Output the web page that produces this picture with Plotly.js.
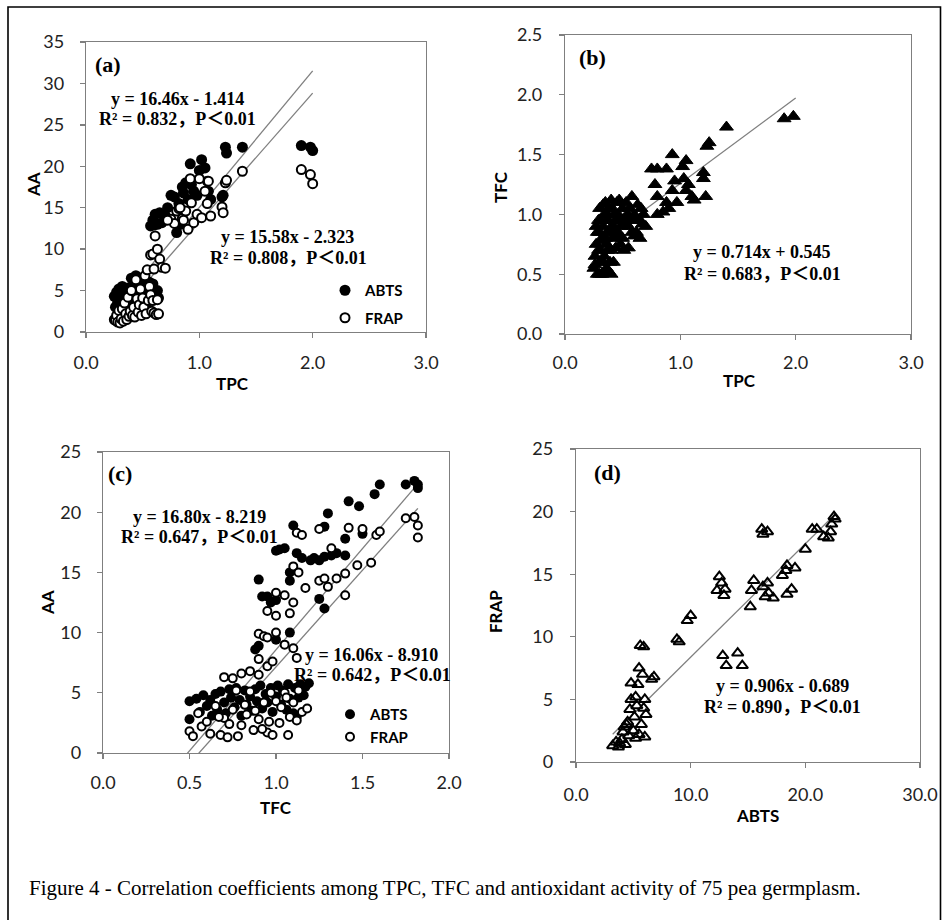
<!DOCTYPE html>
<html><head><meta charset="utf-8">
<script src="https://cdn.plot.ly/plotly-3.0.1.min.js"></script>
<style>html,body{margin:0;padding:0;background:#fff}#chart{width:942px;height:920px}</style>
</head><body><div id="chart"></div>
<script>
// ---------- Panel (a): TPC vs AA (ABTS, FRAP) ----------
var aTPC = [0.25,0.26,0.27,0.28,0.29,0.30,0.31,0.32,0.33,0.34,0.35,0.36,0.37,0.38,0.39,0.40,0.41,0.42,0.43,0.44,0.45,0.46,0.47,0.48,0.49,0.50,0.51,0.52,0.53,0.54,0.55,0.56,0.57,0.58,0.59,0.60,0.62,0.63,0.64,
  0.57,0.59,0.61,0.63,0.65,0.67,0.70,0.60,
  0.75,0.78,0.80,0.82,0.85,0.88,0.90,0.92,0.95,0.98,1.00,1.02,1.05,1.07,1.10,0.83,0.86,1.08,0.72,0.93,
  1.20,1.21,1.23,1.24,1.38,1.90,1.98,2.00];
var aABTS = [4.3,3.0,4.8,3.6,5.2,2.5,4.0,5.5,3.2,4.6,5.0,3.8,5.3,2.8,4.4,6.5,3.5,5.8,4.2,6.8,3.0,5.5,4.8,6.2,3.8,5.0,4.5,6.0,3.3,5.8,4.0,6.0,5.2,4.5,5.8,4.8,4.3,5.0,4.1,
  12.8,13.5,14.2,13.0,14.4,13.2,14.0,12.9,
  16.5,16.3,12.0,15.5,17.5,18.0,16.0,20.3,17.0,16.5,19.5,20.8,19.8,18.2,16.0,13.0,16.8,17.0,15.0,17.8,
  16.3,16.5,22.3,21.6,22.3,22.5,22.3,21.9];
var aFRAP = [1.5,1.4,2.0,1.2,2.6,1.1,1.6,2.8,1.3,3.5,2.2,1.5,4.2,1.9,2.5,5.0,2.0,3.0,1.8,6.3,4.0,2.4,3.3,5.2,2.0,4.1,3.0,6.8,2.2,7.5,3.8,5.5,4.5,2.5,3.8,2.3,2.1,3.9,2.2,
  9.3,9.4,11.6,10.0,8.8,7.8,7.7,7.6,
  13.6,13.1,14.6,14.9,13.7,14.6,12.4,18.5,13.2,14.2,18.5,13.8,17.0,15.5,14.0,15.0,13.5,18.2,13.5,15.6,
  15.1,14.4,18.0,18.3,19.4,19.6,19.0,17.9];
var aFitABTS = [16.46, -1.414], aFitFRAP = [15.58, -2.323], aFitRange = [0.25, 2.0];

// ---------- Panel (b): TPC vs TFC ----------
var bTPC = [0.25,0.26,0.27,0.28,0.28,0.29,0.30,0.30,0.31,0.32,0.32,0.33,0.34,0.34,0.35,0.36,0.36,0.37,0.38,0.38,0.39,0.40,0.40,0.41,0.42,0.43,0.44,0.45,0.46,0.47,0.48,0.50,0.50,0.52,0.53,0.55,0.55,0.58,0.60,0.60,0.62,0.63,0.65,0.67,0.70,0.66,0.58,
  0.27,0.29,0.31,0.33,0.33,0.35,0.37,0.37,0.39,0.41,0.42,0.44,0.45,0.47,0.49,0.51,0.54,0.56,0.62,0.68,0.30,0.36,0.40,0.43,0.26,0.38,0.30,0.34,0.46,0.65,0.50,0.57,
  0.75,0.80,0.78,0.80,0.80,0.85,0.88,0.88,0.90,0.93,0.93,0.95,0.97,1.02,1.03,1.05,1.05,1.07,1.10,1.12,1.20,1.20,1.22,1.23,1.25,1.40,1.90,1.98];
var bTFC = [0.55,0.65,0.75,0.50,0.85,0.95,0.60,1.05,0.70,0.80,0.50,0.90,1.00,0.65,1.10,0.75,0.55,0.85,1.05,0.95,0.60,0.50,1.12,0.80,0.90,1.00,0.72,1.10,0.85,0.95,0.75,1.05,0.80,0.95,1.10,0.72,0.90,1.15,0.82,1.00,0.95,1.08,0.80,0.92,0.90,1.05,0.85,
  0.90,0.70,0.95,0.60,1.08,0.80,1.00,0.70,0.88,1.05,0.60,0.95,0.82,1.12,0.90,0.70,1.00,1.05,0.85,1.00,0.85,0.95,0.70,0.85,0.58,0.52,0.50,0.78,1.00,0.95,0.92,0.95,
  1.38,1.38,1.25,1.15,1.00,1.02,1.38,1.10,1.05,1.50,1.20,1.28,1.10,1.40,1.30,1.45,1.20,1.25,1.15,1.12,1.35,1.30,1.15,1.57,1.60,1.73,1.80,1.82];
var bFit = [0.714, 0.545], bFitRange = [0.25, 2.0];

// ---------- Panel (c): TFC vs AA (ABTS, FRAP) ----------
var cTFC_A = [0.50,0.50,0.54,0.56,0.58,0.60,0.62,0.63,0.65,0.66,0.68,0.70,0.71,0.73,0.74,0.76,0.77,0.79,0.80,0.82,0.83,0.85,0.86,0.88,0.89,0.91,0.92,0.94,0.95,0.97,0.98,1.00,1.01,1.03,1.04,1.06,1.07,1.08,1.10,1.11,1.13,1.14,1.16,1.17,1.19,1.12,
  0.88,0.90,1.00,1.08,
  0.90,0.92,0.95,1.00,1.02,1.05,1.08,1.10,1.12,1.15,1.20,1.22,1.25,1.28,1.28,1.30,1.32,1.35,1.40,1.42,1.40,1.48,1.50,1.57,1.60,1.75,1.80,1.82,1.82,1.25,1.28,1.00,1.08,0.97];
var cABTS = [4.3,2.8,4.5,3.4,4.8,3.9,4.4,3.1,4.9,3.6,5.1,4.2,3.3,5.3,4.6,3.8,5.4,4.4,3.1,5.2,4.0,4.7,3.5,5.3,4.3,5.6,3.7,4.9,4.2,5.4,3.4,4.7,5.6,4.0,5.2,3.6,5.7,4.5,3.3,5.4,4.6,5.7,4.8,5.5,5.8,3.0,
  8.6,8.9,9.4,10.0,
  14.4,13.0,13.0,16.8,16.9,17.0,15.0,18.9,16.6,16.2,16.0,16.2,16.0,16.3,18.8,19.9,16.4,16.6,16.4,20.9,17.8,20.5,18.2,21.5,22.3,22.3,22.6,22.0,22.3,12.8,12.0,12.7,14.3,12.5];
var cTFC_F = [0.50,0.52,0.55,0.57,0.60,0.62,0.65,0.68,0.70,0.70,0.72,0.75,0.77,0.78,0.80,0.80,0.82,0.85,0.87,0.88,0.90,0.90,0.93,0.95,0.97,0.98,1.00,1.02,1.05,1.07,1.08,1.10,1.12,1.15,1.18,0.75,0.85,0.67,0.92,1.03,1.13,0.73,0.83,0.96,1.06,
  1.05,1.10,1.12,0.90,0.93,0.95,0.90,0.95,0.98,1.00,
  0.95,1.00,1.00,1.05,1.08,1.10,1.10,1.13,1.12,1.15,1.17,1.25,1.25,1.28,1.30,1.32,1.35,1.40,1.42,1.40,1.47,1.50,1.55,1.58,1.60,1.75,1.80,1.82,1.82];
var cFRAP = [1.8,1.4,3.3,2.2,2.6,1.6,3.9,1.5,6.3,2.9,1.3,3.6,5.2,1.4,6.6,2.3,4.0,5.1,1.9,3.5,6.5,2.8,4.2,1.7,5.0,1.5,4.3,2.5,5.0,1.5,3.0,4.2,2.7,3.4,3.7,6.2,6.8,3.0,2.0,3.8,5.2,2.4,3.2,2.6,4.6,
  9.0,8.7,7.9,9.9,9.7,9.6,7.8,7.2,7.6,10.0,
  11.8,11.4,13.3,13.1,11.6,12.5,15.5,15.0,18.3,18.1,13.7,18.6,14.3,14.5,13.8,17.0,14.5,13.1,18.7,14.9,15.6,18.6,15.8,18.1,18.4,19.5,19.6,18.9,17.9];
var cFitABTS = [16.80, -8.219], cFitFRAP = [16.06, -8.910], cFitRange = [0.48, 1.82];

// ---------- Panel (d): ABTS vs FRAP ----------
var dABTS = [3.2,3.5,3.7,4.0,4.2,4.3,4.5,4.6,4.7,4.8,4.8,5.0,5.1,5.2,5.3,5.4,5.5,5.5,5.6,5.7,5.8,5.9,5.9,6.0,6.0,6.1,6.6,6.8,4.1,4.4,5.2,3.8,
  8.8,9.0,9.7,10.0,
  12.3,12.5,12.7,12.9,13.0,12.8,13.1,14.1,14.5,
  15.2,15.3,15.5,16.2,16.3,16.7,16.3,16.5,16.7,16.8,17.2,18.0,18.3,18.4,18.4,18.8,19.1,20.0,20.6,21.0,21.6,22.0,22.2,22.3,22.5,22.6];
var dFRAP = [1.3,1.6,1.2,1.8,2.8,1.4,3.2,2.1,4.2,5.0,6.3,2.5,3.6,5.2,4.5,6.2,7.5,2.2,9.3,3.0,7.0,9.2,4.3,5.0,2.0,3.8,6.6,6.8,2.4,3.0,1.9,1.5,
  9.8,9.6,11.3,11.7,
  13.7,14.8,14.3,13.3,13.8,8.5,7.7,8.7,7.7,
  12.4,13.7,14.5,18.6,18.2,18.4,14.0,13.2,14.3,13.5,13.1,14.9,15.3,15.7,13.4,13.8,15.5,17.0,18.6,18.6,18.0,17.9,18.4,19.0,19.6,19.4];
var dFit = [0.906, -0.689], dFitRange = [3.2, 22.6];

// ---------- Text ----------
var capText = "Figure 4 - Correlation coefficients among TPC, TFC and antioxidant activity of 75 pea germplasm.";

var W = 942, H = 920;
function px(x){return x/W;}
function py(y){return 1 - y/H;}
function fitLine(fit, range){ return {x: range.slice(), y: range.map(function(v){return fit[0]*v + fit[1];})}; }

var GRAY = '#7f7f7f';
function mkTrend(fit, range, xa, ya){
  var l = fitLine(fit, range);
  return {x:l.x, y:l.y, xaxis:xa, yaxis:ya, mode:'lines', line:{color:GRAY, width:1.3}, showlegend:false, hoverinfo:'skip'};
}
var filledC = function(sz){return {symbol:'circle', size:sz, color:'#000', line:{width:0}};};
var openC = function(sz){return {symbol:'circle', size:sz, color:'#fff', line:{width:2, color:'#000'}};};

var traces = [
  mkTrend(aFitABTS, aFitRange, 'x', 'y'),
  mkTrend(aFitFRAP, aFitRange, 'x', 'y'),
  {x:aTPC, y:aABTS, xaxis:'x', yaxis:'y', mode:'markers', name:'ABTS', marker:filledC(11), legend:'legend', legendgroup:'a1'},
  {x:aTPC, y:aFRAP, xaxis:'x', yaxis:'y', mode:'markers', name:'FRAP', marker:openC(9), legend:'legend', legendgroup:'a2'},

  mkTrend(bFit, bFitRange, 'x2', 'y2'),
  {x:bTPC, y:bTFC, xaxis:'x2', yaxis:'y2', mode:'markers', showlegend:false,
   marker:{symbol:'triangle-up', size:12, color:'#000', line:{width:1, color:'#000'}}},

  mkTrend(cFitABTS, cFitRange, 'x3', 'y3'),
  mkTrend(cFitFRAP, cFitRange, 'x3', 'y3'),
  {x:cTFC_A, y:cABTS, xaxis:'x3', yaxis:'y3', mode:'markers', name:'ABTS', marker:filledC(10), legend:'legend2'},
  {x:cTFC_F, y:cFRAP, xaxis:'x3', yaxis:'y3', mode:'markers', name:'FRAP', marker:openC(8), legend:'legend2'},

  mkTrend(dFit, dFitRange, 'x4', 'y4'),
  {x:dABTS, y:dFRAP, xaxis:'x4', yaxis:'y4', mode:'markers', showlegend:false,
   marker:{symbol:'triangle-up-open', size:10, color:'#000', line:{width:2, color:'#000'}}}
];

function axis(dom, anchor, range, dtick, fmt, standoff){
  var a = {domain:dom, anchor:anchor, range:range, dtick:dtick, tick0:0, showline:true, mirror:true,
    linecolor:GRAY, linewidth:1.3, ticks:'outside', ticklen:5, tickwidth:1.3, tickcolor:GRAY,
    showgrid:false, zeroline:false, fixedrange:true, ticklabelstandoff:standoff,
    tickfont:{family:'Lato, Carlito, sans-serif', size:18, color:'#222'}};
  if (fmt) a.tickformat = fmt;
  return a;
}

var serifB = 'Liberation Serif, Times New Roman, Noto Sans CJK SC, serif';
var ann = [];
function T(text, x, y, opt){
  opt = opt || {};
  ann.push({text:text, x:px(x), y:py(y), xref:'paper', yref:'paper', showarrow:false,
    xanchor:opt.xanchor || 'center', yanchor:'middle', textangle:opt.angle || 0,
    font:{family:opt.family || serifB, size:opt.size || 18, color:'#000', weight: opt.weight || 'bold'}});
}
var sansB = 'Lato, Carlito, sans-serif';
// panel labels
T('(a)', 93, 65, {xanchor:'left', size:22});
T('(b)', 577, 57, {xanchor:'left', size:22});
T('(c)', 106, 473, {xanchor:'left', size:22});
T('(d)', 592, 472, {xanchor:'left', size:22});
// equations
T('y = 16.46x - 1.414', 177, 99);
T('R² = 0.832，P＜0.01', 177, 119);
T('y = 15.58x - 2.323', 287, 237);
T('R² = 0.808，P＜0.01', 288, 258);
T('y = 0.714x + 0.545', 762, 252);
T('R² = 0.683，P＜0.01', 762, 274);
T('y = 16.80x - 8.219', 199, 517);
T('R² = 0.647，P＜0.01', 199, 537);
T('y = 16.06x - 8.910', 371, 655);
T('R² = 0.642，P＜0.01', 372, 675);
T('y = 0.906x - 0.689', 782, 686);
T('R² = 0.890，P＜0.01', 782, 707);
// axis titles
T('AA', 33, 185, {angle:-90, family:sansB, size:17});
T('TPC', 232, 383, {family:sansB, size:17});
T('TFC', 500, 187, {angle:-90, family:sansB, size:17});
T('TPC', 739, 380, {family:sansB, size:17});
T('AA', 47, 603, {angle:-90, family:sansB, size:17});
T('TFC', 276, 807, {family:sansB, size:17});
T('FRAP', 495, 612, {angle:-90, family:sansB, size:17});
T('ABTS', 757, 815, {family:sansB, size:17});
// caption
T(capText, 27, 888, {xanchor:'left', size:21, weight:'normal'});

var layout = {
  width:W, height:H, margin:{l:0,r:0,t:0,b:0}, paper_bgcolor:'#fff', plot_bgcolor:'#fff',
  xaxis: axis([px(86), px(426)], 'y', [0,3], 1, '.1f', 9),
  yaxis: axis([py(332), py(42)], 'x', [0,35], 5, null, 12),
  xaxis2: axis([px(565), px(911)], 'y2', [0,3], 1, '.1f', 7),
  yaxis2: axis([py(334), py(35)], 'x2', [0,2.5], 0.5, '.1f', 13),
  xaxis3: axis([px(103), px(449)], 'y3', [0,2], 0.5, '.1f', 8),
  yaxis3: axis([py(753), py(452)], 'x3', [0,25], 5, null, 12),
  xaxis4: axis([px(576), px(920)], 'y4', [0,30], 10, '.1f', 11),
  yaxis4: axis([py(762), py(449)], 'x4', [0,25], 5, null, 13),
  legend: {x:px(325), y:py(274), xanchor:'left', yanchor:'top', bgcolor:'rgba(0,0,0,0)', borderwidth:0,
    tracegroupgap:5, traceorder:'grouped', font:{family:sansB, size:15, color:'#000', weight:'bold'}},
  legend2: {x:px(330), y:py(698), xanchor:'left', yanchor:'top', bgcolor:'rgba(0,0,0,0)', borderwidth:0,
    font:{family:sansB, size:15, color:'#000', weight:'bold'}},
  showlegend:true,
  annotations: ann,
  shapes: [{type:'rect', xref:'paper', yref:'paper', x0:px(8), x1:px(940.5), y0:-0.05, y1:py(7),
    line:{color:'#000', width:1.6}, fillcolor:'rgba(0,0,0,0)'}]
};

Plotly.newPlot('chart', traces, layout, {displayModeBar:false, staticPlot:true});
</script></body></html>
